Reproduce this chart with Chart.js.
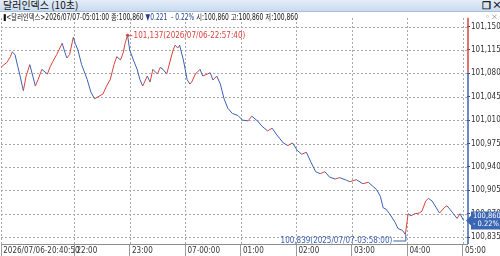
<!DOCTYPE html>
<html><head><meta charset="utf-8">
<script src="https://cdn.jsdelivr.net/npm/chart.js@4.4.1/dist/chart.umd.min.js"></script>
<style>
html,body{margin:0;padding:0;width:500px;height:256px;overflow:hidden;background:#fff;font-family:"Noto Sans CJK KR",sans-serif;}
#title{position:absolute;left:0;top:0;width:500px;height:11px;background:linear-gradient(#e4edf8,#c8dbf0);border-bottom:1px solid #a9bed8;}
#title .t{position:absolute;left:3px;top:-1px;font-size:10px;line-height:12px;color:#111;}
#title .ic{position:absolute;top:-1px;font-size:10px;line-height:12px;color:#222;font-weight:bold;}
#info{position:absolute;left:3px;top:10px;font-family:'Liberation Sans Narrow','DejaVu Sans Condensed','Liberation Sans',"Noto Sans CJK KR",sans-serif;font-size:9px;line-height:12px;color:#111;white-space:nowrap;z-index:2;transform-origin:0 50%;}
#info .k{font-family:"Noto Sans CJK KR",sans-serif;font-size:8.5px;}
#info .dn{color:#1f3f8f;}
#wrap{position:absolute;left:0;top:12px;width:500px;height:244px;}
#pic{position:absolute;right:2px;top:12px;font-size:7px;line-height:8px;color:#777;z-index:2;}
</style></head>
<body>
<div id="title"><span class="t">달러인덱스 (10초)</span><span class="ic" style="left:482px;">&#x2750;</span><span class="ic" style="left:492px;">×</span></div>
<div id="info">▮&lt;<span class="k">달러인덱스</span>&gt;2026/07/07-05:01:00 <span class="k">종</span>:100,860 <span class="dn">▼0.221 &nbsp;- 0.22%</span> <span class="k">시</span>:100,860 <span class="k">고</span>:100,860 <span class="k">저</span>:100,860</div>
<div id="pic">▫×</div>
<div id="wrap"><canvas id="c" width="500" height="244"></canvas></div>
<script>
// ---- data ----
const startTime = "20:40:50";
const endTime = "05:04:40";
const times = ["20:40:50","20:44","20:47","20:51","20:53","20:56","20:59","21:01","21:05","21:08","21:12","21:18","21:21","21:25","21:31","21:34","21:37","21:41","21:47","21:50","21:52","21:55","21:59","22:01","22:04","22:08","22:14","22:18","22:22","22:27","22:31","22:35","22:39","22:43","22:46","22:50","22:53","22:55","22:57:40","23:00","23:04","23:08","23:11","23:14","23:19","23:22","23:25","23:30","23:33","23:36","23:40","23:44","23:47","23:49","23:52","23:54","23:58","00:00","00:02","00:05","00:07","00:11","00:16","00:19","00:24","00:27","00:30","00:34","00:38","00:42","00:46","00:51","00:57","01:02","01:08","01:12","01:18","01:23","01:29","01:34","01:39","01:46","01:51","01:56","02:01","02:06","02:11","02:16","02:21","02:26","02:31","02:36","02:42","02:47","02:53","02:58","03:05","03:12","03:18","03:23","03:27","03:31","03:34","03:37","03:41","03:47","03:50","03:55","03:58","04:01","04:04","04:08","04:13","04:16","04:20","04:23","04:27","04:31","04:35","04:40","04:43","04:46","04:50","04:54","04:57","05:01"];
const prices = [101.089,101.093,101.096,101.105,101.112,101.108,101.090,101.079,101.054,101.076,101.093,101.061,101.071,101.086,101.079,101.090,101.098,101.108,101.125,101.111,101.103,101.108,101.134,101.125,101.115,101.093,101.071,101.052,101.042,101.046,101.049,101.061,101.071,101.093,101.105,101.100,101.111,101.125,101.137,101.115,101.100,101.086,101.071,101.061,101.076,101.067,101.086,101.079,101.089,101.086,101.079,101.100,101.115,101.122,101.118,101.122,101.100,101.086,101.071,101.064,101.067,101.079,101.086,101.076,101.079,101.081,101.070,101.076,101.064,101.042,101.028,101.020,101.017,101.010,101.009,101.016,101.009,101.001,100.994,100.998,100.988,100.976,100.972,100.976,100.965,100.959,100.962,100.947,100.933,100.930,100.933,100.925,100.922,100.924,100.921,100.918,100.921,100.915,100.917,100.911,100.906,100.896,100.879,100.877,100.870,100.857,100.848,100.845,100.839,100.870,100.867,100.870,100.871,100.874,100.889,100.893,100.889,100.880,100.871,100.879,100.882,100.877,100.870,100.863,100.870,100.860];
const prevClose = 101.081;
const yMin = 100.8248, yMax = 101.1631;
const yTicks = [101.150,101.115,101.080,101.045,101.010,100.975,100.940,100.905,100.870,100.835];
const xTickTimes = ["20:40:50","22:00","23:00","00:00","01:00","02:00","03:00","04:00","05:00"];
const xTickLabels = ["2026/07/06-20:40:50","22:00","23:00","07-00:00","01:00","02:00","03:00","04:00","05:00"];
const maxLabel = "101,137(2026/07/06-22:57:40)";
const minLabel = "100,839(2025/07/07-03:58:00)";
const lastLabel = ["100,860","- 0.22%"];

(function(){const el=document.getElementById('info');const w=el.getBoundingClientRect().width;if(w>0)el.style.transform='scaleX('+(295/w)+')';})();

function toMin(s){const p=s.split(':').map(Number);let m=p[0]*60+p[1]+(p[2]||0)/60;if(p[0]<12)m+=1440;return m;}
const t0 = toMin(startTime);
const pts = times.map((t,i)=>({x:toMin(t)-t0,y:prices[i]}));
const RED='#d9433d', BLUE='#3b62b2';
const FONT="'Liberation Sans Narrow','DejaVu Sans Condensed','Liberation Sans',sans-serif";

function drawDotGrid(chart){
  const ctx=chart.ctx, xs=chart.scales.x, ys=chart.scales.y, ca=chart.chartArea;
  ctx.save();
  ctx.fillStyle='#a8a8a8';
  yTicks.forEach(v=>{
    const y=Math.round(ys.getPixelForValue(v));
    for(let x=Math.ceil(ca.left);x<ca.right;x+=4) ctx.fillRect(x,y,2,1);
  });
  xTickTimes.forEach(t=>{
    const x=Math.round(xs.getPixelForValue(toMin(t)-t0));
    for(let y=Math.ceil(ca.top);y<ca.bottom;y+=4) ctx.fillRect(x,y,1,2);
  });
  ctx.restore();
}

const deco = {
  id:'deco',
  beforeDatasetsDraw(chart){ drawDotGrid(chart); },
  afterDatasetsDraw(chart){
    const ctx=chart.ctx, xs=chart.scales.x, ys=chart.scales.y, ca=chart.chartArea;
    const ax = ca.right+1;
    const yp = ys.getPixelForValue(prevClose);
    ctx.save();
    ctx.lineWidth=1.5;
    ctx.strokeStyle=RED; ctx.beginPath(); ctx.moveTo(ax,ca.top); ctx.lineTo(ax,yp); ctx.stroke();
    ctx.strokeStyle=BLUE; ctx.beginPath(); ctx.moveTo(ax,yp); ctx.lineTo(ax,ca.bottom); ctx.stroke();
    let iMax=0,iMin=0;
    prices.forEach((v,i)=>{if(v>prices[iMax])iMax=i;if(v<prices[iMin])iMin=i;});
    const mx=xs.getPixelForValue(pts[iMax].x), my=ys.getPixelForValue(pts[iMax].y);
    ctx.fillStyle=RED; ctx.strokeStyle=RED; ctx.lineWidth=1;
    ctx.beginPath(); ctx.arc(mx,my,1.6,0,Math.PI*2); ctx.fill();
    ctx.beginPath(); ctx.moveTo(mx,my+0.5); ctx.lineTo(mx+5,my+0.5); ctx.stroke();
    ctx.font="8px "+FONT; ctx.textBaseline='middle'; ctx.textAlign='left';
    ctx.fillText(maxLabel,mx+6,my+1);
    const nx=xs.getPixelForValue(pts[iMin].x), ny=ys.getPixelForValue(pts[iMin].y);
    const ly=ny+6.5;
    ctx.strokeStyle=BLUE; ctx.fillStyle=BLUE;
    ctx.beginPath(); ctx.moveTo(nx+0.5,ny); ctx.lineTo(nx+0.5,ly); ctx.lineTo(nx-12,ly); ctx.stroke();
    ctx.textAlign='right'; ctx.fillText(minLabel,nx-13,ly);
    const lv=prices[prices.length-1], by=ys.getPixelForValue(lv);
    ctx.fillStyle='#3a66b3';
    ctx.beginPath();
    ctx.moveTo(ax-2,by); ctx.lineTo(ax+3,by-5); ctx.lineTo(ax+3,by-9); ctx.lineTo(500,by-9);
    ctx.lineTo(500,by+9); ctx.lineTo(ax+3,by+9); ctx.lineTo(ax+3,by+5); ctx.closePath(); ctx.fill();
    ctx.fillStyle='#fff'; ctx.textAlign='left'; ctx.font="7.5px "+FONT;
    ctx.fillText(lastLabel[0],ax+5,by-4); ctx.fillText(lastLabel[1],ax+5,by+4);
    ctx.restore();
  }
};

new Chart(document.getElementById('c'),{
  type:'line',
  data:{datasets:[{data:pts,borderWidth:1,pointRadius:0,tension:0,borderColor:BLUE,
    segment:{borderColor:c=>c.p1.parsed.y>=c.p0.parsed.y?RED:BLUE}}]},
  options:{
    animation:false,responsive:false,maintainAspectRatio:false,
    layout:{padding:{left:1,right:0,top:0,bottom:0}},
    plugins:{legend:{display:false},tooltip:{enabled:false}},
    scales:{
      x:{type:'linear',position:'bottom',min:0,max:toMin(endTime)-t0,
        afterBuildTicks:s=>{s.ticks=xTickTimes.map(t=>({value:toMin(t)-t0}));},
        afterFit:s=>{s.height=12;},
        grid:{drawOnChartArea:false,color:'#9a9a9a',tickLength:12,tickColor:'#9a9a9a'},
        border:{display:true,color:'#8d8d8d'},
        ticks:{align:'start',padding:-10,maxRotation:0,autoSkip:false,color:'#333',font:{family:FONT,size:8},
          callback:(v,i)=>' '+xTickLabels[i]}
      },
      y:{position:'right',min:yMin,max:yMax,
        afterBuildTicks:s=>{s.ticks=yTicks.map(v=>({value:v}));},
        afterFit:s=>{s.width=33;},
        grid:{drawOnChartArea:false,color:'#444',tickLength:3,tickColor:'#444'},
        border:{display:false},
        ticks:{padding:1,color:'#333',font:{family:FONT,size:8},
          callback:v=>v.toFixed(3).replace('.',',')}
      }
    }
  },
  plugins:[deco]
});
</script>
</body></html>
